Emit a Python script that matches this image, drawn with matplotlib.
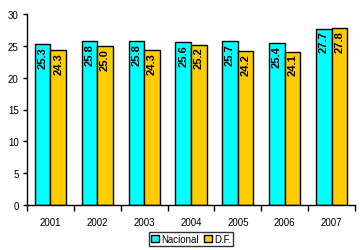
import matplotlib
matplotlib.use("Agg")
import matplotlib.pyplot as plt
import numpy as np

years = ["2001", "2002", "2003", "2004", "2005", "2006", "2007"]
nacional = [25.3, 25.8, 25.8, 25.6, 25.7, 25.4, 27.7]
df = [24.3, 25.0, 24.3, 25.2, 24.2, 24.1, 27.8]
series_names = ["Nacional", "D.F."]
colors = ["#00FFFF", "#FFCC00"]

plt.rcParams['font.family'] = ['Liberation Sans', 'DejaVu Sans']

fig = plt.figure(figsize=(3.62, 2.51), dpi=100)
ax = fig.add_axes([27/362, 1 - 206/251, (355-27)/362, (206-15)/251])

x = np.arange(len(years))
w = 1/3
b1 = ax.bar(x - w/2, nacional, w, color=colors[0], edgecolor='black', linewidth=1, label=series_names[0])
b2 = ax.bar(x + w/2, df, w, color=colors[1], edgecolor='black', linewidth=1, label=series_names[1])

for bars, vals in ((b1, nacional), (b2, df)):
    for rect, v in zip(bars, vals):
        ax.text(rect.get_x() + rect.get_width()/2, v - 0.3, f"{v:.1f}",
                rotation=90, ha='center', va='top', fontsize=8, fontweight='bold')

ax.set_xlim(-0.5, len(years) - 0.5)
ax.set_ylim(0, 30)
ax.set_yticks(range(0, 31, 5))
ax.tick_params(axis='y', labelsize=7, length=3, width=1, direction='out', pad=3)
ax.set_xticks(x)
ax.set_xticklabels(years)
ax.set_xticks(np.arange(-0.5, len(years), 1), minor=True)
ax.tick_params(axis='x', which='major', length=0, labelsize=7, pad=9)
ax.tick_params(axis='x', which='minor', length=4, width=1, direction='out')
for s in ['top', 'right']:
    ax.spines[s].set_visible(False)
for s in ['left', 'bottom']:
    ax.spines[s].set_linewidth(1)

leg = fig.legend(loc='center', bbox_to_anchor=(191/362, 1 - 240/251), ncol=2, fontsize=7,
                 frameon=True, fancybox=False, shadow=False, handlelength=0.8, handleheight=0.8,
                 handletextpad=0.2, columnspacing=0.6, borderpad=0.2, borderaxespad=0)
leg.get_frame().set_edgecolor('black')
leg.get_frame().set_linewidth(1)

fig.savefig("out.png", dpi=100)
